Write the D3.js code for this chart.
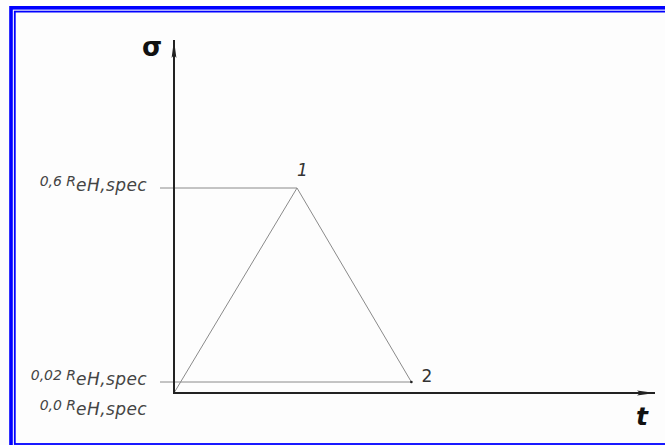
<!DOCTYPE html>
<html>
<head>
<meta charset="utf-8">
<script src="https://cdn.jsdelivr.net/npm/d3@7"></script>
<style>
  body { margin: 0; background: #fff; }
  svg { display: block; }
</style>
</head>
<body>
<div id="chart"></div>
<script>
// load cycle points: time (schematic units) and stress level (fraction of ReH,spec)
var pointNames = ['0', '1', '2'];
var timeValues = [0, 1, 1.93];
var stressValues = [0, 0.6, 0.02];
// stress levels marked on the vertical axis
var levelValues = [0.6, 0.02, 0.0];
var levelLabels = ['0,6', '0,02', '0,0'];

function drawCycle(selection) {
    var width = 665,
        height = 445;

    d3.select(selection).html(null);

    var svg = d3.select(selection).append('svg')
        .attr('width', width)
        .attr('height', height);

    svg.append('rect')
        .attr('width', width)
        .attr('height', height)
        .attr('fill', '#fdfdfd');

    // double blue frame (cut off at right and bottom)
    svg.append('rect')
        .attr('x', 11).attr('y', 7.8)
        .attr('width', 700).attr('height', 480)
        .attr('fill', 'none')
        .attr('stroke', '#0000ff')
        .attr('stroke-width', 3.6);
    svg.append('rect')
        .attr('x', 14.8).attr('y', 11.6)
        .attr('width', 700).attr('height', 432.4)
        .attr('fill', 'none')
        .attr('stroke', '#0000ff')
        .attr('stroke-width', 1.8);

    var x = d3.scaleLinear()
        .domain([0, 1])
        .range([174, 297]);

    // schematic: the low levels are spread apart
    var y = d3.scaleLinear()
        .domain([0, 0.02, 0.6])
        .range([393, 382, 188]);

    var defs = svg.append('defs');
    defs.append('marker')
        .attr('id', 'arrow')
        .attr('viewBox', '0 0 18 6')
        .attr('refX', 18).attr('refY', 3)
        .attr('markerWidth', 18).attr('markerHeight', 6)
        .attr('markerUnits', 'userSpaceOnUse')
        .attr('orient', 'auto')
        .append('path')
        .attr('d', 'M0,0.6 L18,3 L0,5.4 L3,3 Z')
        .attr('fill', '#222');

    // level guide lines
    var points = pointNames.map(function(n, i) {
        return { name: n, t: timeValues[i], s: stressValues[i] };
    });

    svg.selectAll('.guide')
        .data(points.filter(function(d) { return d.s > 0; }))
        .enter().append('line')
        .attr('class', 'guide')
        .attr('x1', x(0) - 14)
        .attr('x2', function(d) { return x(d.t); })
        .attr('y1', function(d) { return y(d.s); })
        .attr('y2', function(d) { return y(d.s); })
        .attr('stroke', '#8a8a8a')
        .attr('stroke-width', 1);

    // load path
    var line = d3.line()
        .x(function(d) { return x(d.t); })
        .y(function(d) { return y(d.s); });

    svg.append('path')
        .datum(points)
        .attr('d', line)
        .attr('fill', 'none')
        .attr('stroke', '#8a8a8a')
        .attr('stroke-width', 1);

    svg.append('circle')
        .attr('cx', x(points[2].t))
        .attr('cy', y(points[2].s))
        .attr('r', 1.3)
        .attr('fill', '#222');

    // axes
    svg.append('line')
        .attr('x1', x(0)).attr('y1', y(0))
        .attr('x2', 655).attr('y2', y(0))
        .attr('stroke', '#222')
        .attr('stroke-width', 2)
        .attr('marker-end', 'url(#arrow)');
    svg.append('line')
        .attr('x1', x(0)).attr('y1', y(0) + 1)
        .attr('x2', x(0)).attr('y2', 40)
        .attr('stroke', '#222')
        .attr('stroke-width', 2)
        .attr('marker-end', 'url(#arrow)');

    svg.append('text')
        .attr('x', 142).attr('y', 56)
        .style('font-family', 'DejaVu Sans, sans-serif')
        .style('font-weight', 'bold')
        .style('font-size', '26px')
        .attr('fill', '#111')
        .text('σ');

    svg.append('text')
        .attr('x', 636).attr('y', 425)
        .style('font-family', 'DejaVu Sans, sans-serif')
        .style('font-weight', 'bold')
        .style('font-style', 'italic')
        .style('font-size', '25px')
        .attr('fill', '#111')
        .text('t');

    // point labels
    svg.append('text')
        .attr('x', x(points[1].t) + 0).attr('y', y(points[1].s) - 12)
        .style('font-family', 'DejaVu Sans, sans-serif')
        .style('font-style', 'italic')
        .style('font-size', '17px')
        .attr('fill', '#333')
        .text(points[1].name);
    svg.append('text')
        .attr('x', x(points[2].t) + 10).attr('y', y(points[2].s))
        .style('font-family', 'DejaVu Sans, sans-serif')
        .style('font-size', '17px')
        .attr('fill', '#333')
        .text(points[2].name);

    // level labels
    var lab = svg.selectAll('.level')
        .data(levelValues)
        .enter().append('text')
        .attr('class', 'level')
        .attr('x', 147)
        .attr('y', function(d) { return d > 0 ? y(d) - 2 : y(d) + 17; })
        .attr('text-anchor', 'end')
        .style('font-family', 'DejaVu Sans, sans-serif')
        .style('font-style', 'italic')
        .attr('fill', '#444');

    lab.append('tspan')
        .style('font-size', '14px')
        .text(function(d, i) { return levelLabels[i] + ' R'; });
    lab.append('tspan')
        .attr('dy', 5)
        .style('font-size', '17px')
        .style('letter-spacing', '0.4px')
        .text('eH,spec');
}

drawCycle('#chart');
</script>
</body>
</html>
